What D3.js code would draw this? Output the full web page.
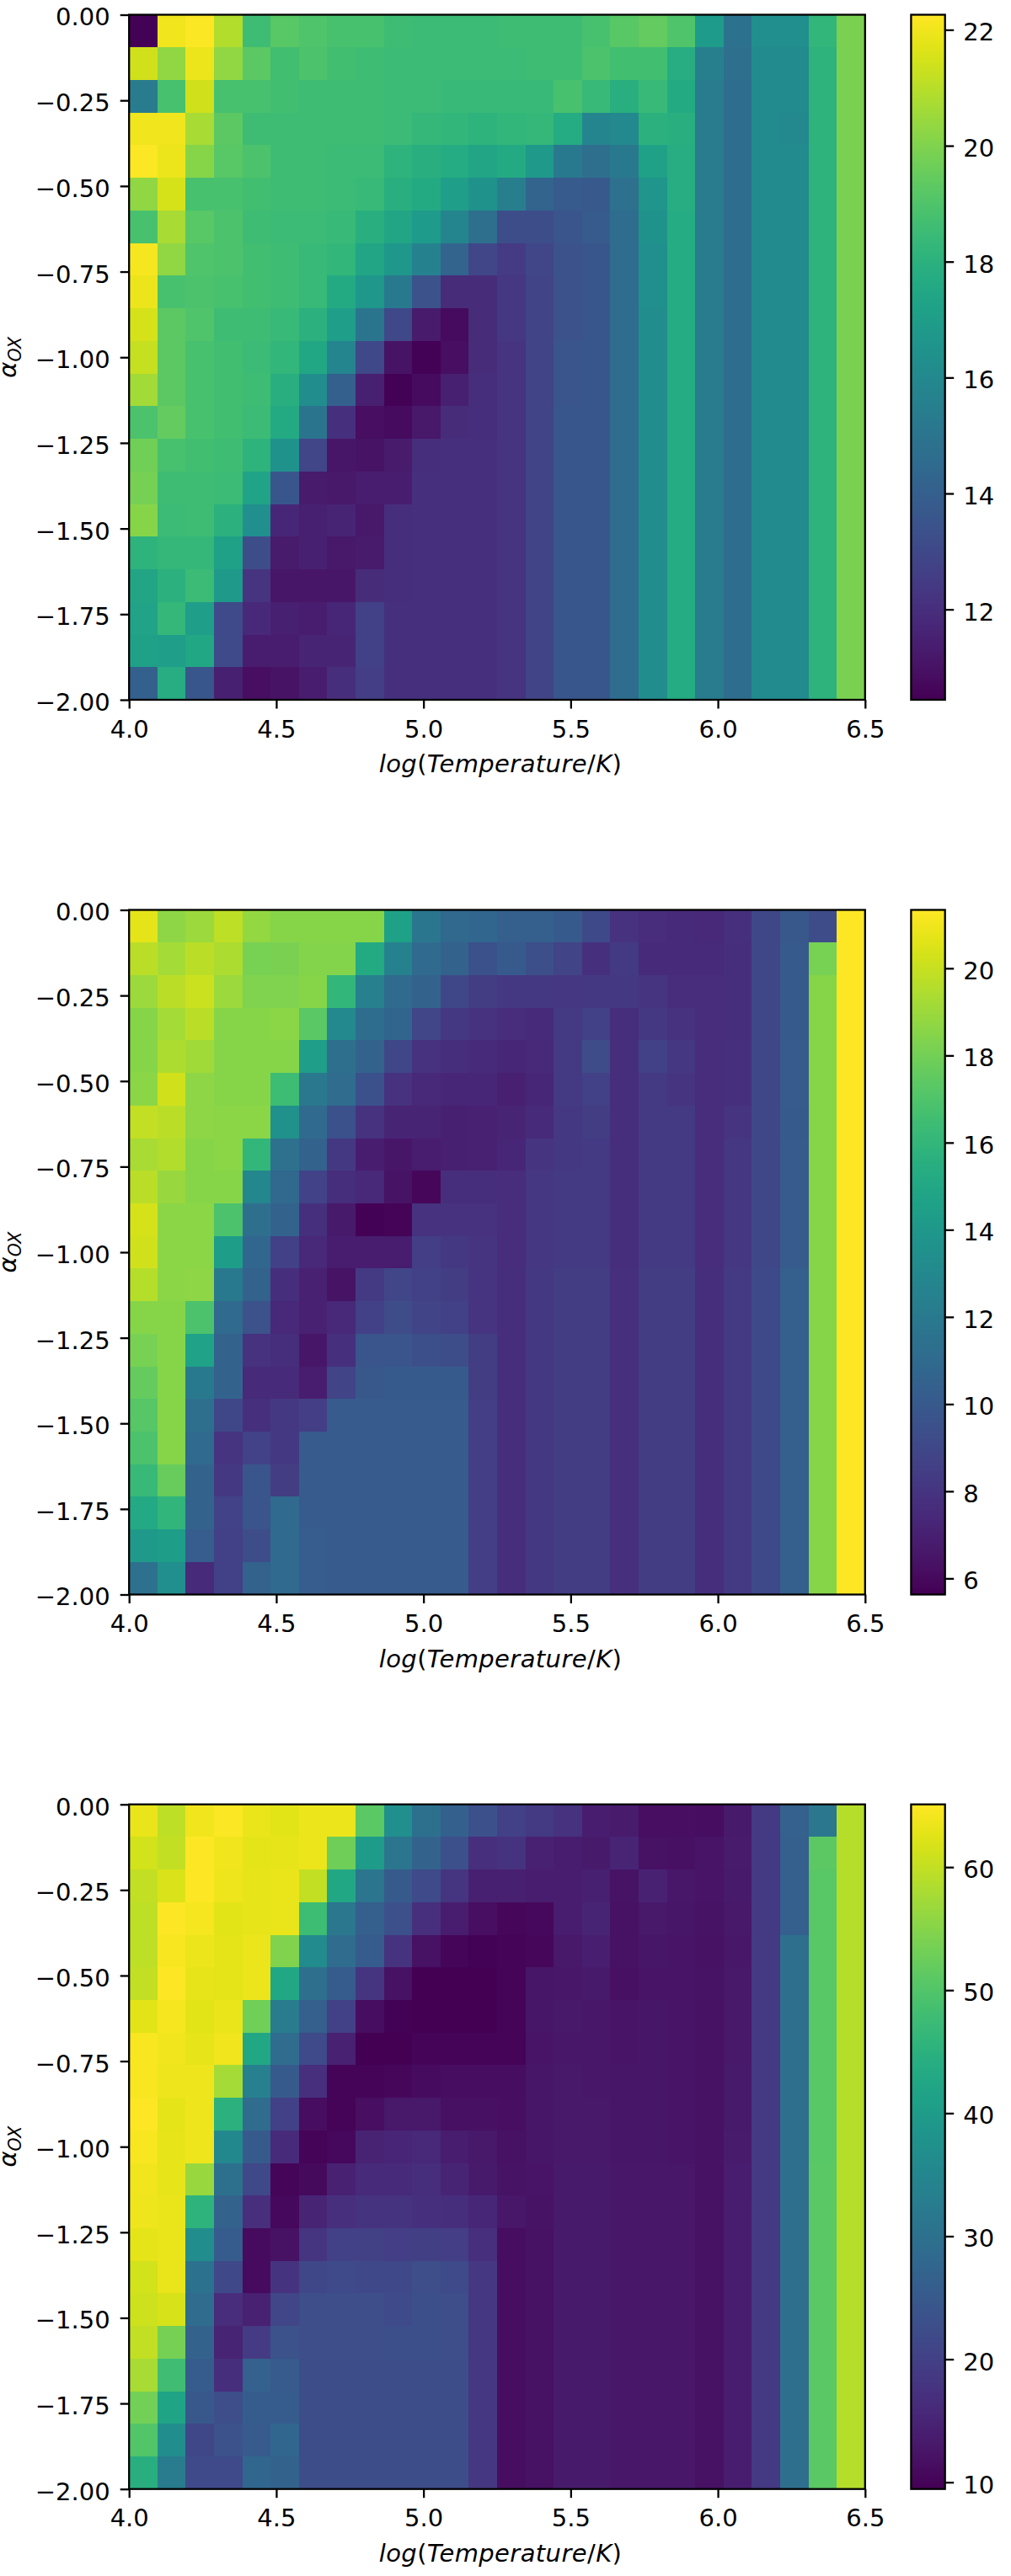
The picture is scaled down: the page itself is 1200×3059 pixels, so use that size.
<!DOCTYPE html>
<html>
<head>
<meta charset="utf-8">
<script src="https://cdn.jsdelivr.net/npm/d3@7"></script>
<style>
html,body{margin:0;padding:0;background:#fff;}
svg{display:block;}
text{font-family:"DejaVu Sans",sans-serif;fill:#000;}
</style>
</head>
<body>
<div id="chart"></div>
<script>
const panel1Values = [
[10.5,22.0,22.2,20.9,18.6,19.2,19.0,18.8,18.8,18.6,18.5,18.5,18.5,18.6,18.6,18.6,18.8,19.2,19.4,19.0,16.9,14.9,16.3,16.3,18.2,19.9],
[21.4,20.3,21.9,20.3,19.3,18.7,18.9,18.7,18.6,18.5,18.5,18.5,18.5,18.5,18.6,18.6,18.9,18.7,18.7,17.8,15.5,14.7,16.1,16.1,18.1,19.9],
[15.3,18.8,21.4,18.8,18.8,18.7,18.6,18.6,18.6,18.5,18.5,18.4,18.4,18.4,18.4,18.8,18.4,17.9,18.4,17.6,15.3,14.6,16.1,16.1,18.1,19.9],
[22.0,22.0,20.7,19.3,18.6,18.6,18.6,18.6,18.6,18.5,18.3,18.2,18.1,18.2,18.3,17.7,15.8,16.0,18.0,17.9,15.3,14.6,16.1,16.0,18.1,19.9],
[22.2,21.9,20.1,19.2,18.9,18.6,18.6,18.5,18.5,18.1,17.9,17.7,17.4,17.6,16.8,15.2,14.7,15.2,17.2,17.8,15.3,14.6,16.1,16.1,18.1,19.9],
[20.3,21.5,18.8,18.8,18.7,18.6,18.6,18.5,18.4,17.9,17.6,17.0,16.4,15.5,14.2,13.8,13.7,14.8,16.6,17.8,15.3,14.6,16.1,16.1,18.1,19.9],
[18.8,20.7,19.2,18.9,18.6,18.5,18.5,18.4,17.9,17.4,16.9,15.8,14.7,13.2,13.2,13.5,13.8,14.6,16.4,17.7,15.3,14.6,16.1,16.1,18.1,19.9],
[22.1,20.3,19.0,18.9,18.7,18.6,18.4,18.2,17.4,16.7,15.6,14.2,12.9,12.5,12.9,13.4,13.6,14.6,16.3,17.7,15.3,14.6,16.1,16.1,18.1,19.9],
[21.9,18.8,18.9,18.8,18.7,18.6,18.4,17.6,16.7,15.2,13.4,11.9,11.9,12.3,12.8,13.4,13.6,14.6,16.3,17.7,15.3,14.6,16.1,16.1,18.1,19.9],
[21.5,19.3,19.0,18.6,18.6,18.4,18.0,17.0,15.0,13.0,11.3,10.8,11.9,12.3,12.8,13.4,13.6,14.6,16.2,17.7,15.3,14.6,16.1,16.1,18.1,19.9],
[21.2,19.3,18.8,18.7,18.5,18.2,17.5,15.8,13.0,11.0,10.5,10.9,11.9,12.2,12.8,13.5,13.6,14.6,16.2,17.7,15.3,14.6,16.1,16.1,18.1,19.9],
[20.6,19.3,18.8,18.7,18.6,17.9,16.2,14.0,11.5,10.5,10.8,11.5,12.0,12.2,12.8,13.5,13.6,14.6,16.2,17.7,15.3,14.6,16.1,16.1,18.1,19.9],
[18.9,19.4,18.8,18.7,18.5,17.6,15.0,12.1,10.9,10.8,11.2,11.9,12.0,12.2,12.8,13.6,13.6,14.6,16.2,17.7,15.3,14.6,16.1,16.1,18.1,19.9],
[19.7,18.8,18.7,18.6,18.1,16.4,12.9,11.1,11.0,11.3,12.0,12.1,12.1,12.2,12.8,13.6,13.6,14.6,16.2,17.7,15.3,14.6,16.1,16.1,18.1,19.9],
[19.8,18.6,18.6,18.5,17.3,13.6,11.3,11.2,11.4,11.4,12.1,12.1,12.1,12.2,12.8,13.6,13.6,14.6,16.2,17.7,15.3,14.6,16.1,16.1,18.1,19.9],
[20.1,18.5,18.6,18.0,16.3,11.7,11.5,11.6,11.2,12.0,12.1,12.1,12.1,12.2,12.8,13.6,13.6,14.6,16.2,17.7,15.3,14.6,16.1,16.1,18.1,19.9],
[18.1,18.3,18.3,17.2,13.2,11.3,11.5,11.2,11.3,12.0,12.1,12.1,12.1,12.2,12.8,13.6,13.6,14.6,16.2,17.7,15.3,14.6,16.1,16.1,18.1,19.9],
[17.4,18.0,18.5,16.8,12.2,11.1,11.1,11.1,11.9,12.0,12.1,12.1,12.1,12.2,12.8,13.6,13.6,14.6,16.2,17.7,15.3,14.6,16.1,16.1,18.1,19.9],
[17.3,18.3,17.0,13.1,11.8,11.5,11.4,11.7,12.7,12.1,12.1,12.1,12.1,12.2,12.8,13.6,13.6,14.6,16.2,17.7,15.3,14.6,16.1,16.1,18.1,19.9],
[17.2,17.0,17.5,13.1,11.4,11.4,11.6,11.6,12.7,12.1,12.1,12.1,12.1,12.2,12.8,13.6,13.6,14.6,16.2,17.7,15.3,14.6,16.1,16.1,18.1,19.9],
[14.0,17.8,13.6,11.5,10.9,11.0,11.4,12.0,12.6,12.1,12.1,12.1,12.1,12.2,12.8,13.6,13.6,14.6,16.2,17.7,15.3,14.6,16.1,16.1,18.1,19.9]
];
const panel2Values = [
[20.7,18.7,19.0,19.8,18.8,18.5,18.5,18.5,18.5,14.6,11.8,10.9,10.8,10.3,10.3,10.0,9.1,7.9,7.6,7.5,7.4,7.8,9.0,9.9,9.2,21.3],
[19.7,19.2,19.7,19.4,18.1,18.2,18.4,18.4,15.2,12.5,11.0,10.6,9.5,10.0,9.4,8.8,7.8,8.3,7.5,7.5,7.5,7.7,9.0,10.0,18.1,21.3],
[19.0,19.7,20.1,19.0,18.3,18.3,18.5,16.0,12.4,11.0,10.6,9.0,8.4,8.2,8.2,8.1,8.2,8.2,8.0,7.6,7.6,7.7,9.0,10.0,18.5,21.3],
[18.5,19.2,19.7,18.5,18.5,18.6,17.3,13.0,11.2,10.7,8.9,8.2,7.9,7.6,7.5,8.3,8.6,7.7,8.2,7.9,7.6,7.7,9.0,10.0,18.5,21.3],
[18.5,19.4,19.1,18.5,18.5,18.5,14.4,11.3,10.6,9.0,7.9,7.7,7.5,7.3,7.4,8.3,9.2,7.7,8.6,8.1,7.6,7.8,9.0,10.1,18.5,21.3],
[18.6,20.2,18.7,18.5,18.5,16.4,11.9,11.1,9.5,7.9,7.4,7.3,7.3,7.0,7.3,8.3,8.6,7.7,8.3,8.0,7.6,7.8,9.0,10.1,18.5,21.3],
[19.9,19.7,18.7,18.6,18.6,13.5,11.0,9.5,7.9,7.2,7.2,7.0,7.1,7.2,7.5,8.2,8.4,7.7,8.3,8.3,7.6,8.0,9.0,10.0,18.5,21.3],
[19.3,19.5,18.5,18.6,16.0,11.4,10.5,8.2,6.9,6.5,6.8,7.0,7.1,7.3,8.0,8.2,8.3,7.7,8.3,8.3,7.6,8.1,9.0,10.1,18.5,21.3],
[19.7,18.9,18.5,18.5,12.9,10.9,8.7,7.7,7.4,6.4,5.9,7.7,7.7,7.6,8.1,8.3,8.3,7.7,8.3,8.3,7.6,8.1,9.0,10.1,18.5,21.3],
[20.3,18.6,18.6,16.9,11.3,10.6,7.8,6.7,5.7,5.8,7.9,7.9,7.9,7.6,8.1,8.3,8.3,7.7,8.3,8.3,7.6,8.1,9.0,10.1,18.5,21.3],
[20.2,18.6,18.6,14.3,10.8,8.6,7.4,6.9,6.9,6.8,8.5,8.2,8.0,7.6,8.1,8.3,8.3,7.7,8.3,8.3,7.6,8.1,9.0,10.1,18.5,21.3],
[19.6,18.6,18.7,12.0,10.5,7.7,7.1,6.4,8.3,8.9,8.6,8.4,8.0,7.7,8.2,8.4,8.4,7.8,8.4,8.4,7.7,8.3,9.1,10.3,18.5,21.3],
[18.5,18.5,16.9,11.0,9.6,7.4,7.1,7.4,8.6,9.2,8.8,8.6,8.0,7.7,8.2,8.4,8.4,7.8,8.4,8.4,7.7,8.3,9.1,10.3,18.5,21.3],
[18.1,18.5,14.7,10.5,7.9,7.7,6.5,7.8,9.7,9.8,9.4,9.3,8.4,7.7,8.2,8.4,8.4,7.8,8.4,8.4,7.7,8.3,9.1,10.3,18.5,21.3],
[17.6,18.5,12.0,10.6,7.5,7.5,6.9,8.8,9.9,10.0,10.0,10.0,8.4,7.7,8.2,8.4,8.4,7.8,8.4,8.4,7.7,8.3,9.1,10.3,18.5,21.3],
[17.2,18.5,11.3,9.0,7.8,8.2,8.5,10.1,10.1,10.1,10.1,10.1,8.5,7.7,8.2,8.4,8.4,7.8,8.4,8.4,7.7,8.3,9.1,10.3,18.5,21.3],
[16.9,18.5,11.0,8.0,8.7,8.2,10.1,10.1,10.1,10.1,10.1,10.1,8.5,7.7,8.2,8.4,8.4,7.8,8.4,8.4,7.7,8.3,9.1,10.3,18.5,21.3],
[16.2,17.7,10.6,8.2,9.8,8.4,10.1,10.1,10.1,10.1,10.1,10.1,8.5,7.7,8.2,8.4,8.4,7.8,8.4,8.4,7.7,8.3,9.1,10.3,18.5,21.3],
[15.1,15.9,10.6,8.7,9.7,11.0,10.1,10.1,10.1,10.1,10.1,10.1,8.5,7.7,8.2,8.4,8.4,7.8,8.4,8.4,7.7,8.3,9.1,10.3,18.5,21.3],
[14.1,14.3,10.2,8.6,9.3,11.0,10.2,10.1,10.1,10.1,10.1,10.1,8.5,7.7,8.2,8.4,8.4,7.8,8.4,8.4,7.7,8.3,9.1,10.3,18.5,21.3],
[11.4,13.4,7.5,8.6,10.5,11.0,10.2,10.1,10.1,10.1,10.1,10.1,8.5,7.7,8.2,8.4,8.4,7.8,8.4,8.4,7.7,8.3,9.1,10.3,18.5,21.3]
];
const panel3Values = [
[63.3,59.5,63.9,64.7,63.3,62.6,63.4,63.5,50.8,37.0,29.8,26.3,23.0,20.0,18.7,17.3,14.0,13.5,11.6,11.5,11.4,13.3,18.6,26.5,31.5,59.0],
[61.2,60.0,65.0,64.0,62.8,63.0,63.5,52.8,40.0,31.0,27.0,23.0,17.0,17.5,14.5,14.0,13.3,15.0,12.0,11.7,12.4,13.5,18.6,26.0,51.0,59.0],
[60.0,62.0,65.0,63.6,63.0,63.3,60.0,42.6,31.0,25.0,22.0,18.0,14.4,14.4,14.0,13.6,14.4,12.2,14.5,12.9,12.3,13.2,18.6,26.0,50.7,59.0],
[59.5,65.0,64.3,62.7,63.0,63.3,47.5,31.5,26.0,23.0,17.0,14.0,11.5,10.5,10.7,14.0,15.0,12.0,13.0,12.6,12.1,13.0,18.6,26.0,50.7,59.0],
[59.5,64.5,63.4,62.8,63.5,54.5,36.0,29.0,25.5,17.5,12.0,10.2,9.8,10.0,10.4,13.0,14.2,12.0,12.6,12.4,12.0,12.9,18.6,29.5,50.7,59.0],
[60.0,65.0,63.0,62.8,63.5,42.6,29.5,25.5,18.0,12.0,9.6,9.6,9.6,10.0,12.6,12.8,13.3,11.8,12.4,12.4,12.2,13.0,18.6,29.5,50.7,59.0],
[62.5,64.3,62.7,63.3,53.0,32.5,26.0,20.0,11.2,9.8,9.6,9.6,9.6,9.9,12.6,13.0,12.9,12.4,12.6,12.4,11.9,13.0,18.6,29.5,50.7,59.0],
[64.6,63.8,63.0,64.0,42.6,29.0,22.0,14.5,9.6,9.6,10.0,10.0,10.0,10.0,12.4,12.8,12.8,12.3,12.5,12.4,11.9,13.0,18.6,29.5,50.7,59.0],
[64.6,63.6,63.6,57.5,33.5,25.0,17.0,10.0,10.0,10.5,11.0,11.2,11.2,11.4,12.5,13.0,12.8,12.5,12.5,12.4,11.9,13.2,18.6,29.5,50.7,59.0],
[65.0,62.8,63.6,45.0,29.0,20.0,11.2,10.0,11.6,13.0,13.0,11.8,11.8,11.5,12.5,13.0,13.0,12.5,12.5,12.4,11.9,13.3,18.6,29.5,50.7,59.0],
[64.6,63.0,63.6,35.5,25.0,16.0,10.0,10.6,14.7,15.2,15.6,14.0,13.0,12.0,12.6,13.0,13.0,12.6,12.6,12.4,11.9,13.5,18.6,29.5,50.7,59.0],
[63.8,63.0,56.5,29.8,21.5,10.2,10.8,14.5,16.0,16.0,16.8,15.0,13.3,12.2,12.4,13.2,13.2,12.8,12.8,12.8,11.9,13.7,18.6,29.5,50.9,59.0],
[63.6,63.2,45.5,27.0,17.0,10.6,15.0,17.0,17.5,17.5,17.1,16.8,15.4,12.8,12.2,13.3,13.3,12.8,12.8,12.8,11.9,13.9,18.6,29.5,50.9,59.0],
[62.8,63.2,36.5,25.5,11.0,12.0,18.0,20.0,20.3,19.6,19.8,19.6,17.0,11.3,12.0,13.3,13.3,12.8,12.8,12.8,11.9,13.9,18.6,29.5,50.9,59.0],
[61.3,63.2,30.5,21.5,11.0,17.5,21.2,22.0,21.5,21.5,22.5,22.0,18.2,11.3,12.0,13.3,13.3,12.8,12.8,12.8,11.9,13.9,18.6,29.5,50.9,59.0],
[60.8,61.8,29.0,16.5,14.5,21.0,22.5,22.7,22.6,22.0,22.8,22.5,18.2,11.3,12.0,13.3,13.3,12.8,12.8,12.8,11.9,13.9,18.6,29.5,50.9,59.0],
[60.0,53.5,27.0,15.0,19.2,23.5,22.5,22.5,22.5,22.8,22.8,22.6,18.2,11.3,12.0,13.3,13.3,12.8,12.8,12.8,11.9,13.9,18.6,29.5,50.9,59.0],
[57.8,48.0,25.5,16.8,26.5,25.2,22.4,22.4,22.4,22.4,22.4,22.4,18.2,11.3,12.0,13.3,13.3,12.8,12.8,12.8,11.9,13.9,18.6,29.5,50.9,59.0],
[53.3,42.0,24.5,22.5,25.5,25.5,22.4,22.4,22.4,22.4,22.4,22.4,18.2,11.3,12.0,13.3,13.3,12.8,12.8,12.8,11.9,13.9,18.6,29.5,50.9,59.0],
[50.0,36.5,21.3,23.5,25.2,27.5,22.4,22.4,22.4,22.4,22.4,22.4,18.2,11.3,12.0,13.3,13.3,12.8,12.8,12.8,11.9,13.9,18.6,29.5,50.9,59.0],
[44.5,32.5,22.0,22.0,27.5,26.8,22.4,22.4,22.4,22.4,22.4,22.4,18.2,11.3,12.0,13.3,13.3,12.8,12.8,12.8,11.9,13.9,18.6,29.5,50.9,59.0]
];

const xTicks = [4.0,4.5,5.0,5.5,6.0,6.5];
const yTicks = [0,-0.25,-0.5,-0.75,-1,-1.25,-1.5,-1.75,-2];
const panel1ColorTicks = [12,14,16,18,20,22];
const panel2ColorTicks = [6,8,10,12,14,16,18,20];
const panel3ColorTicks = [10,20,30,40,50,60];
const panel1Range = [10.44,22.26];
const panel2Range = [5.63,21.34];
const panel3Range = [9.45,65.1];

const W = 1200, H = 3059;
const axL = 153.2, axR = 1026.8, cbL = 1081.4, cbR = 1121.7;
const panels = [
  {values:panel1Values, range:panel1Range, cticks:panel1ColorTicks, top:17.5, bottom:831},
  {values:panel2Values, range:panel2Range, cticks:panel2ColorTicks, top:1080.5, bottom:1893.5},
  {values:panel3Values, range:panel3Range, cticks:panel3ColorTicks, top:2142.7, bottom:2955.7}
];
const FS = 29, LW = 2.3, TL = 10.5;

const svg = d3.select("#chart").append("svg").attr("width",W).attr("height",H).attr("viewBox",`0 0 ${W} ${H}`);

panels.forEach(p => {
  const x = d3.scaleLinear().domain([4,6.5]).range([axL,axR]);
  const y = d3.scaleLinear().domain([0,-2]).range([p.top,p.bottom]);
  const color = d3.scaleSequential(d3.interpolateViridis).domain(p.range);
  const nRows = p.values.length, nCols = p.values[0].length;
  const xEdge = i => Math.round(x(4 + i*2.5/nCols));
  const yEdge = j => Math.round(y(-j*2/nRows));
  const g = svg.append("g");

  p.values.forEach((row,j) => {
    g.append("g").attr("shape-rendering","crispEdges").selectAll("rect").data(row).join("rect")
      .attr("x",(d,i)=>xEdge(i))
      .attr("y",yEdge(j))
      .attr("width",(d,i)=>xEdge(i+1)-xEdge(i))
      .attr("height",yEdge(j+1)-yEdge(j))
      .attr("fill",d=>color(d));
  });

  const xAxis = d3.axisBottom(x).tickValues(xTicks).tickFormat(d3.format(".1f")).tickSize(TL).tickSizeOuter(0).tickPadding(13.5);
  const yAxis = d3.axisLeft(y).tickValues(yTicks).tickFormat(d3.format(".2f")).tickSize(TL).tickSizeOuter(0).tickPadding(12);
  const gx = g.append("g").attr("transform",`translate(0,${p.bottom})`).call(xAxis);
  const gy = g.append("g").attr("transform",`translate(${axL},0)`).call(yAxis);
  [gx,gy].forEach(a=>{
    a.select(".domain").remove();
    a.selectAll("line").attr("stroke","#000").attr("stroke-width",LW);
    a.selectAll("text").attr("font-size",FS).attr("font-family",'"DejaVu Sans"').attr("fill","#000");
  });
  gy.selectAll("text").attr("dy","0.43em");

  g.append("rect").attr("x",axL).attr("y",p.top).attr("width",axR-axL).attr("height",p.bottom-p.top)
    .attr("fill","none").attr("stroke","#000").attr("stroke-width",LW);

  // x label
  const xl = g.append("text").attr("x",(axL+axR)/2+4).attr("y",p.bottom+86).attr("text-anchor","middle").attr("font-size",FS).attr("letter-spacing",0.4);
  xl.append("tspan").attr("font-style","italic").text("log");
  xl.append("tspan").text("(");
  xl.append("tspan").attr("font-style","italic").text("Temperature");
  xl.append("tspan").text("/");
  xl.append("tspan").attr("font-style","italic").text("K");
  xl.append("tspan").text(")");

  // y label
  const yl = g.append("text").attr("transform",`translate(19,${(p.top+p.bottom)/2}) rotate(-90)`).attr("text-anchor","middle").attr("font-size",FS);
  yl.append("tspan").attr("font-style","italic").text("\u03b1");
  yl.append("tspan").attr("font-style","italic").attr("font-size",20.5).attr("dy",6).text("OX");

  // colorbar
  const cy = d3.scaleLinear().domain(p.range).range([p.bottom,p.top]);
  const levels = d3.range(257).map(i => p.range[0] + i/256*(p.range[1]-p.range[0]));
  g.append("g").attr("shape-rendering","crispEdges").selectAll("rect").data(levels.slice(0,-1)).join("rect")
    .attr("x",Math.round(cbL)).attr("width",Math.round(cbR)-Math.round(cbL))
    .attr("y",(d,i)=>Math.round(cy(levels[i+1])))
    .attr("height",(d,i)=>Math.round(cy(d))-Math.round(cy(levels[i+1])))
    .attr("fill",(d,i)=>color((d+levels[i+1])/2));
  const cAxis = d3.axisRight(cy).tickValues(p.cticks).tickFormat(d3.format("d")).tickSize(TL).tickSizeOuter(0).tickPadding(11);
  const gc = g.append("g").attr("transform",`translate(${cbR},0)`).call(cAxis);
  gc.select(".domain").remove();
  gc.selectAll("line").attr("stroke","#000").attr("stroke-width",LW);
  gc.selectAll("text").attr("font-size",FS).attr("font-family",'"DejaVu Sans"').attr("fill","#000").attr("dy","0.43em");
  g.append("rect").attr("x",cbL).attr("y",p.top).attr("width",cbR-cbL).attr("height",p.bottom-p.top)
    .attr("fill","none").attr("stroke","#000").attr("stroke-width",LW);
});
</script>
</body>
</html>
